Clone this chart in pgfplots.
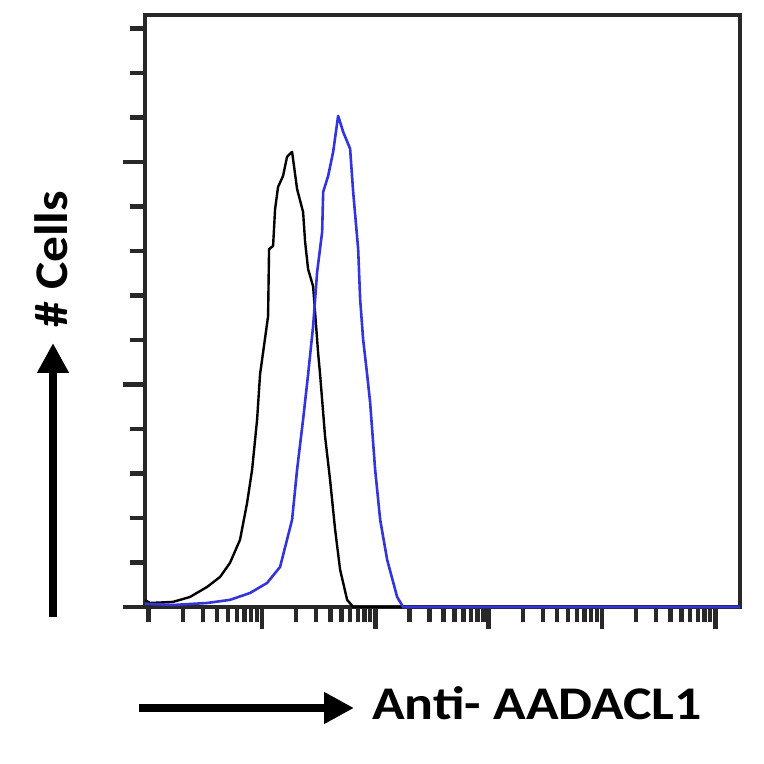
\documentclass[border=0pt]{standalone}
\usepackage{pgfplots}
\pgfplotsset{compat=1.18}
\usepackage{fontspec}
\setmainfont{Carlito}
\usetikzlibrary{arrows.meta}

\definecolor{axisgray}{RGB}{40,40,40}
\definecolor{histblue}{RGB}{52,52,222}

% isotype control (black) and antibody (blue); x = fluorescence, y = count
\pgfplotstableread{
x      y
0.93   3.0
1.03   1.8
1.64   2.3
2.31   4.5
3.27   9.0
4.26   13.5
5.21   19.8
6.39   30.2
7.38   46.8
8.17   61.7
9.04   84.2
9.60   104.5
11.30  130.6
11.53  160.8
12.51  162.2
13.03  178.8
13.84  188.7
15.32  193.7
16.62  202.3
18.41  204.5
20.37  187.8
23.01  177.5
23.99  164.0
25.48  151.8
28.21  144.1
29.38  132.4
31.21  114.4
32.51  104.5
35.98  76.6
39.82  57.2
44.14  34.7
48.85  16.7
56.35  3.2
63.67  0
165000 0
}\isotype

\pgfplotstableread{
x      y
0.93   1.5
1.64   0.9
3.27   1.8
5.21   3.2
7.84   6.3
11.07  10.8
14.42  18.0
18.41  39.2
20.37  61.7
23.01  84.2
25.48  104.5
28.21  126.1
30.62  150.5
33.90  168.5
34.62  186.5
38.31  193.7
42.40  204.5
46.92  220.7
51.92  213.5
59.82  205.9
63.67  186.5
70.47  160.8
73.36  138.3
77.93  120.3
84.55  104.5
89.86  91.9
99.50  61.7
110.2  39.2
127.0  21.2
155.6  4.5
175.8  0
165000 0
}\antibody

\begin{document}
\begin{tikzpicture}[x=1bp,y=1bp]
\useasboundingbox (0,0) rectangle (764,764);
\begin{axis}[
    at={(145bp,157bp)}, anchor=south west,
    scale only axis, width=595bp, height=592bp,
    xmode=log,
    xmin=0.927, xmax=165000,
    ymin=0, ymax=266,
    xtick={10,100,1000,10000,100000},
    minor xtick={1,2,3,4,5,6,7,8,9,20,30,40,50,60,70,80,90,
                 200,300,400,500,600,700,800,900,
                 2000,3000,4000,5000,6000,7000,8000,9000,
                 20000,30000,40000,50000,60000,70000,80000,90000},
    ytick={0,100,200},
    minor ytick={20,40,60,80,120,140,160,180,220,240,260},
    xticklabels={}, yticklabels={},
    tick align=outside,
    xtick pos=bottom, ytick pos=left,
    major tick length=22bp, minor tick length=15bp,
    every tick/.style={draw=axisgray, line width=4.5bp},
    axis line style={axisgray, line width=3.2bp},
    clip=false,
]
\addplot[black, line width=2.4bp, line join=round] table[x=x,y=y] {\isotype};
\addplot[histblue, line width=2.6bp, line join=round] table[x=x,y=y] {\antibody};
\end{axis}

% axis arrows and labels
\draw[line width=8bp, -{Triangle[length=30bp,width=30bp]}] (139,56) -- (354,56);
\node[anchor=base west, inner sep=0pt, font=\fontsize{47}{56}\selectfont\bfseries, xscale=1.15]
    at (372,44) {Anti- AADACL1};
\draw[line width=8bp, -{Triangle[length=30bp,width=30bp]}] (53,147) -- (53,421);
\node[anchor=base, inner sep=0pt, rotate=90, font=\fontsize{47}{56}\selectfont\bfseries, xscale=1.1]
    at (67,505) {\# Cells};
\end{tikzpicture}
\end{document}
